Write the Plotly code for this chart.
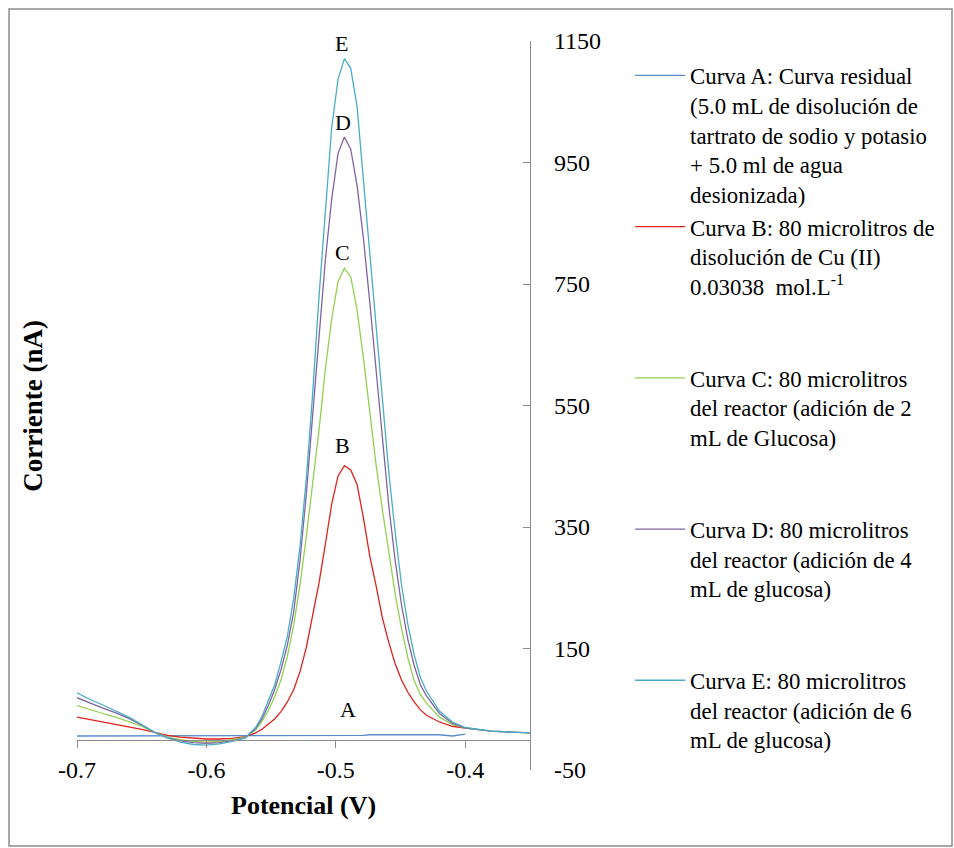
import plotly.graph_objects as go

# ---------------- data ----------------
potential = [
    -0.70, -0.69, -0.68, -0.67, -0.66, -0.65, -0.64, -0.63, -0.62, -0.61, -0.60, -0.59, -0.58, -0.57,
    -0.5620, -0.5571, -0.5522, -0.5473, -0.5424, -0.5375, -0.5326, -0.5277, -0.5228, -0.5179,
    -0.5130, -0.5081, -0.5032, -0.4983, -0.4934, -0.4885, -0.4836, -0.4787, -0.4738, -0.4689,
    -0.4640, -0.4591, -0.4542, -0.4493, -0.4444, -0.4395, -0.4346,
    -0.43, -0.42, -0.41, -0.40, -0.38, -0.36, -0.35,
]

curve_a = [
    6, 6, 6, 6, 6, 6, 6, 6, 6, 6, 6, 6, 6, 6,
    6, 6, 7, 7, 7, 7, 7, 7, 7, 7,
    7, 7, 7, 7, 7, 7, 7, 7, 8, 8,
    8, 8, 8, 8, 8, 8, 8,
    8, 8, 6, 9, None, None, None,
]
curve_b = [
    37, 33, 30, 25, 21, 17, 12, 7, 4, 2, 1, 1, 2, 5,
    11, 17, 25, 34, 46, 62, 82, 112, 152, 202,
    258, 322, 388, 434, 451, 444, 420, 365, 302, 253,
    200, 160, 125, 98, 78, 62, 49,
    40, 29, 22, 19, None, None, None,
]
curve_c = [
    56, 49, 43, 37, 30, 22, 12, 4, 0, -3, -4, -3, 0, 4,
    16, 30, 48, 70, 98, 137, 188, 255, 335, 418,
    510, 610, 693, 754, 776, 762, 707, 628, 538, 452,
    378, 305, 240, 183, 135, 97, 74,
    60, 37, 25, 19, 14, 12, 11,
]
curve_d = [
    69, 60, 52, 44, 35, 24, 12, 3, -2, -5, -6, -5, -2, 3,
    18, 34, 56, 82, 115, 155, 210, 295, 405, 535,
    668, 790, 890, 965, 992, 972, 912, 825, 720, 608,
    495, 385, 295, 222, 165, 122, 90,
    72, 43, 27, 19, 14, 12, 11,
]
curve_e = [
    77, 66, 57, 47, 37, 25, 12, 3, -4, -8, -9, -7, -3, 3,
    20, 38, 63, 90, 128, 170, 232, 318, 430, 570,
    730, 877, 1008, 1087, 1121, 1105, 1042, 921, 801, 675,
    555, 440, 342, 255, 190, 140, 102,
    80, 47, 29, 20, 14, 12, 11,
]

series = [curve_a, curve_b, curve_c, curve_d, curve_e]
peak_letters = ["A", "B", "C", "D", "E"]
legend_names = [
    "Curva A: Curva residual<br>(5.0 mL de disolución de<br>tartrato de sodio y potasio<br>+ 5.0 ml de agua<br>desionizada)",
    "Curva B: 80 microlitros de<br>disolución de Cu (II)<br>0.03038  mol.L<sup>-1</sup><br>\u00a0<br>\u00a0",
    "Curva C: 80 microlitros<br>del reactor (adición de 2<br>mL de Glucosa)<br>\u00a0<br>\u00a0",
    "Curva D: 80 microlitros<br>del reactor (adición de 4<br>mL de glucosa)<br>\u00a0<br>\u00a0",
    "Curva E: 80 microlitros<br>del reactor (adición de 6<br>mL de glucosa)",
]
x_ticks = [-0.7, -0.6, -0.5, -0.4]
x_tick_text = ["-0.7", "-0.6", "-0.5", "-0.4"]
x_range = [-0.7, -0.35]
y_range = [-50, 1150]
y_ticks = [-50, 150, 350, 550, 750, 950, 1150]
y_tick_text = ["-50", "150", "350", "550", "750", "950", "1150"]

# ---------------- styles ----------------
colors = ["#5a8ccc", "#e0211c", "#92d050", "#8064a2", "#4bacc6"]
FONT = "Liberation Serif"
AXIS_GRAY = "#8c8c8c"

fig = go.Figure()
for ys, name, col in zip(series, legend_names, colors):
    fig.add_trace(go.Scatter(
        x=potential, y=ys, mode="lines", name=name,
        line=dict(color=col, width=1.3), connectgaps=False,
        hoverinfo="skip",
    ))
# helper (invisible) trace so the label axis exists
fig.add_trace(go.Scatter(x=[x_range[0]], y=[None], xaxis="x2", yaxis="y",
                         showlegend=False, hoverinfo="skip", mode="lines"))

# peak letters positioned from the data
peak_idx = max(range(len(curve_e)), key=lambda i: curve_e[i])
label_shift = {"A": (4, 26), "B": (-2, 20), "C": (-2, 16), "D": (-1, 14), "E": (-3, 15)}
annotations = []
for ys, letter in zip(series, peak_letters):
    vals = [v if v is not None else -1e9 for v in ys]
    idx = peak_idx if letter == "A" else max(range(len(vals)), key=lambda i: vals[i])
    dx, dy = label_shift[letter]
    annotations.append(dict(
        x=potential[idx], y=ys[idx], xref="x", yref="y", text=letter,
        showarrow=False, xshift=dx, yshift=dy, yanchor="middle",
        font=dict(family=FONT, size=22, color="black"),
    ))

# axis titles
annotations.append(dict(
    x=0.5, y=-0.049, xref="paper", yref="paper", text="<b>Potencial (V)</b>",
    showarrow=False, xanchor="center", yanchor="middle",
    font=dict(family=FONT, size=26, color="black"),
))
annotations.append(dict(
    x=-0.099, y=0.5, xref="paper", yref="paper", text="<b>Corriente (nA)</b>",
    showarrow=False, xanchor="center", yanchor="middle", textangle=-90,
    font=dict(family=FONT, size=27, color="black"),
))

zero_pos = (0 - y_range[0]) / (y_range[1] - y_range[0])

fig.update_layout(
    width=954, height=848,
    margin=dict(l=77, r=424, t=41, b=78),
    paper_bgcolor="white", plot_bgcolor="white",
    font=dict(family=FONT, color="black"),
    showlegend=True,
    legend=dict(
        x=1.221, xanchor="left", y=0.982, yanchor="top",
        valign="top", itemwidth=50, bgcolor="rgba(0,0,0,0)",
        font=dict(family=FONT, size=22.8, color="black"),
        traceorder="normal",
    ),
    xaxis=dict(
        range=x_range, anchor="free", position=zero_pos,
        showline=True, linecolor=AXIS_GRAY, linewidth=1.3,
        ticks="outside", ticklen=7, tickcolor=AXIS_GRAY, tickwidth=1.3,
        tickvals=x_ticks, showticklabels=False,
        showgrid=False, zeroline=False,
    ),
    xaxis2=dict(
        range=x_range, overlaying="x", anchor="y", side="bottom",
        showline=False, ticks="", tickvals=x_ticks, ticktext=x_tick_text,
        showticklabels=True, ticklabelstandoff=-17,
        tickfont=dict(family=FONT, size=24, color="black"),
        showgrid=False, zeroline=False,
    ),
    yaxis=dict(
        range=y_range, side="right", anchor="x",
        showline=True, linecolor=AXIS_GRAY, linewidth=1.3,
        ticks="inside", ticklen=7, tickcolor=AXIS_GRAY, tickwidth=1.3,
        tickvals=y_ticks, ticktext=y_tick_text, ticklabelstandoff=18,
        tickfont=dict(family=FONT, size=24, color="black"),
        showgrid=False, zeroline=False,
    ),
    annotations=annotations,
    shapes=[dict(
        type="rect", xref="paper", yref="paper",
        x0=-0.1501, x1=1.9316, y0=-0.1043, y1=1.0439,
        line=dict(color="#8c8c8c", width=1.5), fillcolor="rgba(0,0,0,0)",
    )],
)

fig.write_html("out.html")
